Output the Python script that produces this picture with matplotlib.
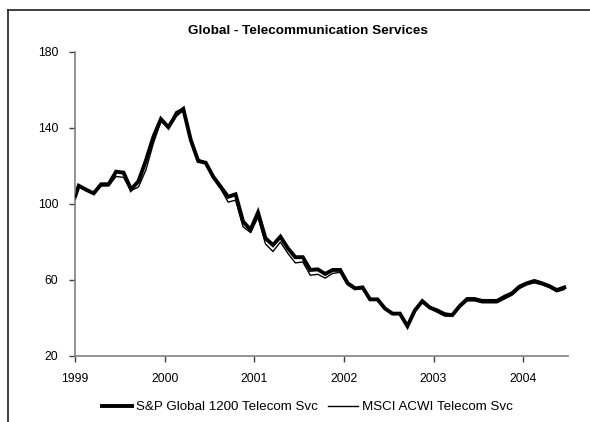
import matplotlib
matplotlib.use("Agg")
import matplotlib.pyplot as plt
from matplotlib.lines import Line2D
from matplotlib import font_manager
import numpy as np
import pandas as pd

# Monthly index levels, Dec 1998 - Jun 2004 (plotted at mid-month)
months = pd.period_range("1998-12", "2004-06", freq="M")
sp_global_1200_telecom = [
    98.0, 109.6, 107.5, 105.6, 110.4, 110.4, 117.0, 116.5, 107.7, 112.0,
    123.0, 135.4, 144.7, 140.4, 146.8, 150.0, 133.7, 122.6, 121.7, 114.4,
    109.1, 103.8, 105.1, 90.8, 86.4, 95.5, 82.0, 78.4, 82.8, 76.7,
    72.0, 72.0, 65.3, 65.6, 63.2, 65.3, 65.3, 58.3, 55.6, 56.1,
    49.8, 49.8, 45.0, 42.3, 42.3, 35.7, 44.0, 48.9, 45.5, 44.0,
    42.0, 41.5, 46.3, 50.0, 50.0, 49.0, 49.0, 49.0, 51.2, 53.0,
    56.5, 58.3, 59.5, 58.3, 56.8, 54.7, 56.1,
]
msci_acwi_telecom = [
    98.0, 109.0, 107.0, 105.5, 109.5, 109.5, 114.5, 114.0, 107.0, 109.0,
    118.0, 132.0, 143.5, 140.5, 148.5, 150.5, 133.0, 123.5, 122.0, 113.5,
    108.0, 101.0, 102.0, 88.0, 85.0, 93.0, 79.0, 75.0, 80.0, 74.0,
    69.0, 69.5, 62.5, 63.0, 61.0, 63.5, 64.0, 57.5, 55.0, 55.5,
    49.5, 49.5, 44.5, 42.0, 42.0, 35.5, 43.5, 48.0, 45.0, 43.0,
    41.0, 41.0, 45.5, 49.0, 49.0, 48.0, 48.0, 48.0, 50.0, 52.0,
    55.5, 57.5, 58.5, 57.5, 56.0, 53.8, 55.0,
]
year_ticks = [1999, 2000, 2001, 2002, 2003, 2004]
value_ticks = [20, 60, 100, 140, 180]

x = np.array([p.year + (p.month - 0.5) / 12.0 for p in months])

installed = {f.name for f in font_manager.fontManager.ttflist}
family = ["Liberation Sans Narrow", "Liberation Sans", "DejaVu Sans"]
family = [f for f in family if f in installed] or ["DejaVu Sans"]
plt.rcParams["font.family"] = family

W, H = 590, 422
fig = plt.figure(figsize=(W / 100, H / 100), dpi=100)
fig.patch.set_facecolor("white")

# outer frame (top and left edges)
fig.add_artist(Line2D([8 / W, 8 / W], [0, 1 - 10 / H], transform=fig.transFigure,
                      color="#303030", lw=1.3))
fig.add_artist(Line2D([8 / W, 1], [1 - 10 / H, 1 - 10 / H], transform=fig.transFigure,
                      color="#303030", lw=1.3))

ax = fig.add_axes([75 / W, (H - 356) / H, (568 - 75) / W, (356 - 52) / H])
ax.plot(x, sp_global_1200_telecom, color="black", lw=2.8, solid_joinstyle="miter",
        label="S&P Global 1200 Telecom Svc", zorder=2)
ax.plot(x, msci_acwi_telecom, color="black", lw=1.0,
        label="MSCI ACWI Telecom Svc", zorder=3)

ax.set_xlim(1999, 2004.5)
ax.set_ylim(20, 180)
ax.set_xticks(year_ticks)
ax.set_xticklabels([str(y) for y in year_ticks])
ax.set_yticks(value_ticks)
for s in ("top", "right"):
    ax.spines[s].set_visible(False)
for s in ("left", "bottom"):
    ax.spines[s].set_color("#808080")
    ax.spines[s].set_linewidth(1.2)
ax.tick_params(axis="both", direction="out", length=4, width=1, color="#404040",
               labelsize=8.7, labelcolor="black")
ax.tick_params(axis="x", pad=8)
ax.tick_params(axis="y", pad=8)

fig.text(308 / W, 1 - 31 / H, "Global - Telecommunication Services", ha="center",
         va="center", fontsize=9.7, fontweight="bold")

handles, labels = ax.get_legend_handles_labels()
fig.legend(handles, labels, loc="center", bbox_to_anchor=(307 / W, 1 - 407 / H),
           ncol=2, frameon=False, fontsize=9.6, handlelength=2.25, handletextpad=0.3,
           columnspacing=0.75)

fig.savefig("out.png", dpi=100, facecolor="white")
